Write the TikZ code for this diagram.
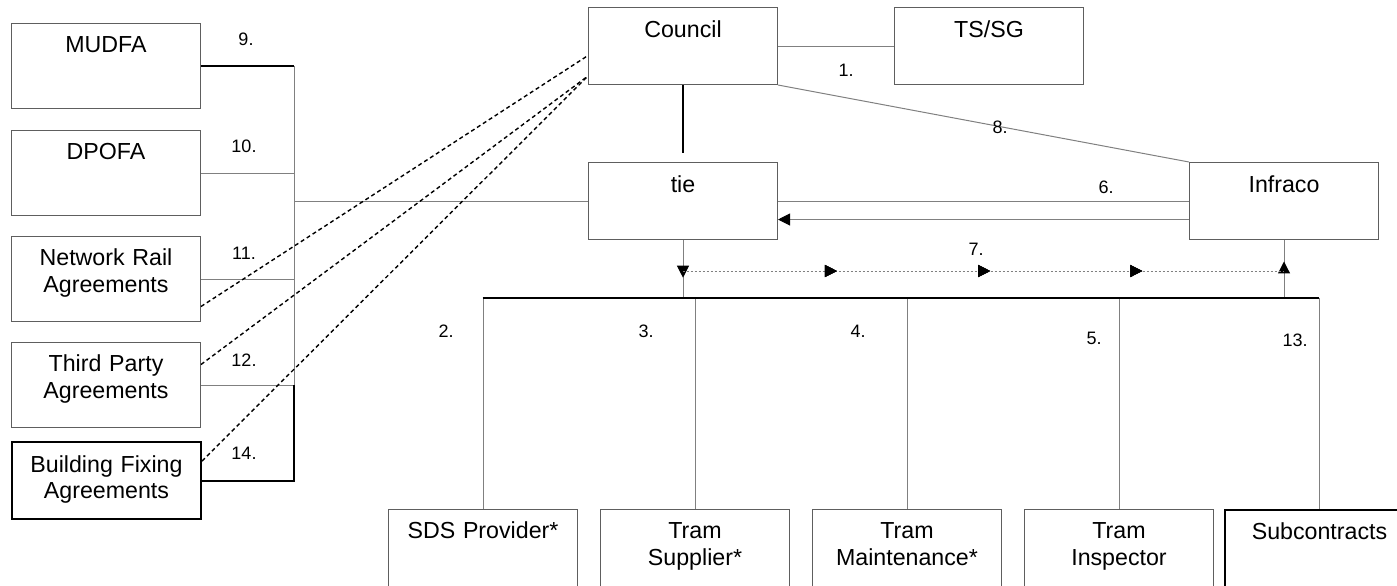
\documentclass[tikz,border=0pt]{standalone}
\usepackage{fontspec}
\setmainfont{Liberation Sans}
\usetikzlibrary{positioning,arrows.meta,decorations.markings}
\definecolor{edgegray}{HTML}{5E5E5E}
\definecolor{wiregray}{HTML}{808080}
\tikzset{
  partybox/.style={draw=edgegray, line width=0.5pt, text width=94.5pt, align=center, inner xsep=0pt, inner ysep=0pt, text height=14.5pt, text depth=28pt, anchor=north west, font=\fontsize{11.6}{13.3}\selectfont},
  shortbox/.style={partybox, text height=15pt, text depth=23.5pt},
  boldbox/.style={draw=black, line width=1pt},
  wire/.style={draw=wiregray, line width=0.5pt},
  heavywire/.style={draw=black, line width=1pt},
  linkdash/.style={draw=black, line width=0.7pt, dash pattern=on 2pt off 1.5pt},
  flowdots/.style={draw=wiregray, line width=0.5pt, dash pattern=on 1pt off 1pt},
  numlabel/.style={font=\fontsize{9}{10}\selectfont, inner sep=0pt},
  headtip/.style={postaction={decorate}, decoration={markings, mark=at position #1 with {\arrow{Triangle[length=6pt,width=6pt,color=black]}}}}
}

\begin{document}
\begin{tikzpicture}[x=0.5pt, y=-0.5pt]
      \useasboundingbox (0,0) rectangle (1397,585);
      \clip (0,0) rectangle (1397,585);
      \node[partybox] (mudfa) at (11,23) {MUDFA};
      \node[partybox] (dpofa) at (11,130) {DPOFA};
      \node[partybox] (netrail) at (11,236) {Network Rail\\Agreements};
      \node[partybox] (thirdparty) at (11,342) {Third Party\\Agreements};
      \node[shortbox, boldbox] (building) at (11,441) {Building Fixing\\Agreements};
      \node[shortbox] (council) at (588,7) {Council};
      \node[shortbox] (tssg) at (894,7) {TS/SG};
      \node[shortbox] (tie) at (588,162) {tie};
      \node[shortbox] (infraco) at (1189,162) {Infraco};
      \node[partybox] (sds) at (388,509) {SDS Provider*};
      \node[partybox] (supplier) at (600,509) {Tram\\Supplier*};
      \node[partybox] (maint) at (812,509) {Tram\\Maintenance*};
      \node[partybox] (inspector) at (1024,509) {Tram\\Inspector};
      \node[partybox, boldbox] (subcon) at (1224,509) {Subcontracts};
      \coordinate (spine) at (294,0);
      \coordinate (busL) at (482.5,298);
      \coordinate (busR) at (1318.5,298);
      \coordinate (flowL) at (682.5,271);
      \coordinate (flowR) at (1283.5,271);
      \draw[heavywire] (mudfa.east) -- (mudfa.east -| spine);
      \draw[wire] (mudfa.east -| spine) -- (thirdparty.east -| spine);
      \draw[wire] (dpofa.east) -- (dpofa.east -| spine);
      \draw[wire] (netrail.east) -- (netrail.east -| spine);
      \draw[wire] (thirdparty.east) -- (thirdparty.east -| spine);
      \draw[wire] (tie.west) -- (tie.west -| spine);
      \draw[heavywire] (building.east) -| (thirdparty.east -| spine);
      \draw[linkdash] ([yshift=-13.75pt]netrail.east) -- ([yshift=-4.75pt]council.west);
      \draw[linkdash] ([yshift=10.25pt]thirdparty.east) -- ([yshift=4.5pt]council.south west);
      \draw[linkdash] ([yshift=9.75pt]building.east) -- ([yshift=4.5pt]council.south west);
      \draw[wire] (council) -- (tssg);
      \draw[heavywire, shorten >=4.5pt] (council) -- (tie);
      \draw[wire] (council.south east) -- (infraco.north west);
      \draw[wire] (tie) -- (infraco);
      \draw[wire, -{Triangle[length=6pt,width=6pt,color=black]}] ([yshift=-9.25pt]infraco.west) -- ([yshift=-9.25pt]tie.east);
      \draw[wire, headtip=0.65] (tie.south) -- (tie.south |- busL);
      \draw[wire, headtip=0.63] (infraco.south |- busL) -- (infraco.south);
      \draw[flowdots, headtip=0.257, headtip=0.512, headtip=0.765] (flowL) -- (flowR);
      \foreach \b in {sds,supplier,maint,inspector,subcon}
        \draw[wire] (\b.north |- busL) -- (\b.north);
      \draw[heavywire] (busL) -- (busR);
      \node[numlabel] (n1) at (846,70) {1.};
      \node[numlabel] (n2) at (446,331) {2.};
      \node[numlabel] (n3) at (646,331) {3.};
      \node[numlabel] (n4) at (858,331) {4.};
      \node[numlabel] (n5) at (1094,338) {5.};
      \node[numlabel] (n6) at (1106,187) {6.};
      \node[numlabel] (n7) at (976,249) {7.};
      \node[numlabel] (n8) at (1000,127) {8.};
      \node[numlabel] (n9) at (246,39) {9.};
      \node[numlabel] (n10) at (244,146) {10.};
      \node[numlabel] (n11) at (244,253) {11.};
      \node[numlabel] (n12) at (244,360) {12.};
      \node[numlabel] (n13) at (1295,340) {13.};
      \node[numlabel] (n14) at (244,453) {14.};
    \end{tikzpicture}
\end{document}
